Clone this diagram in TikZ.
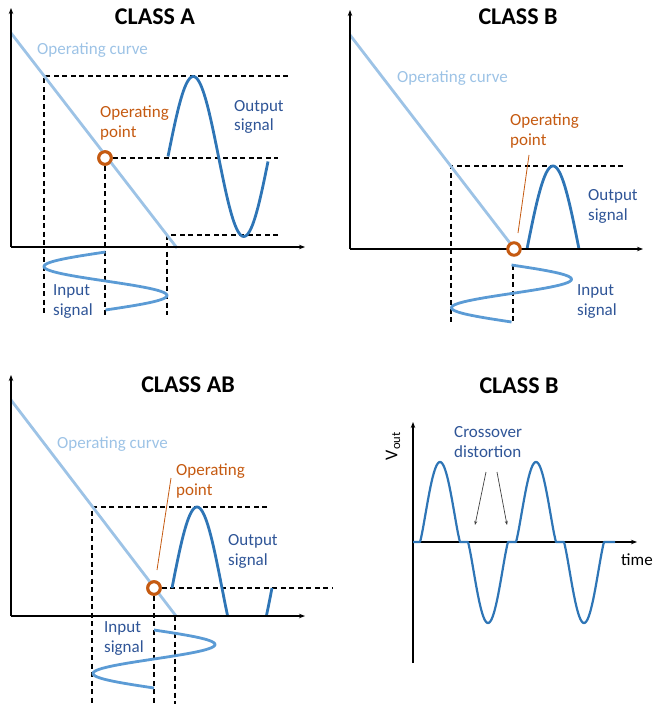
\documentclass[tikz,border=0pt]{standalone}
\usepackage{fontspec}
\setmainfont{Carlito}
\usetikzlibrary{arrows.meta}
\definecolor{curveblue}{HTML}{9DC3E6}
\definecolor{outblue}{HTML}{2E75B6}
\definecolor{inblue}{HTML}{5B9BD5}
\definecolor{txtblue}{HTML}{2F5597}
\definecolor{oporange}{HTML}{C55A11}
\definecolor{arrgray}{HTML}{404040}
\begin{document}
\begin{tikzpicture}[x=1pt,y=-1pt,
  axis/.style={line width=1.2pt,-{Stealth[length=6pt,width=4.5pt]}},
  opcurve/.style={curveblue,line width=2.8pt},
  outsig/.style={outblue,line width=2.8pt},
  insig/.style={inblue,line width=2.8pt},
  guide/.style={line width=1.2pt,dash pattern=on 5pt off 3.5pt},
  oppt/.style={circle,draw=oporange,fill=white,line width=3pt,minimum size=12.5pt,inner sep=0pt},
  pointer/.style={oporange,line width=0.8pt},
  ttl/.style={font=\fontsize{24}{28}\selectfont\bfseries,anchor=base,inner sep=0pt},
  lbl/.style={font=\fontsize{17}{20}\selectfont,align=left,anchor=base west,inner sep=0pt},
  declare function={lobe(\t)=pow(max(abs(sin(4.5*\t)),0.0001),1.2);}
]
\useasboundingbox (0,0) rectangle (658,706);

% ================= CLASS A =================
\coordinate (Ao) at (11,247);
\coordinate (Ay) at (11,8);
\coordinate (Ax) at (305,247);
\coordinate (cA1) at (11,33);
\coordinate (cA2) at (177,248);
\node[oppt] (opA) at (105,158) {};
\coordinate (gA1) at (44,76);
\coordinate (gA2) at (288,76);
\coordinate (gA3) at (44,315);
\coordinate (gA4) at (278,158);
\coordinate (gA5) at (105,315);
\coordinate (gA6) at (167,235);
\coordinate (gA7) at (278,235);
\coordinate (gA8) at (167,315);
\draw[guide] (gA2) -- (gA1) -- (gA3);
\draw[guide] (opA.east) -- (gA4);
\draw[guide] (opA.south) -- (gA5);
\draw[guide] (gA7) -- (gA6) -- (gA8);
\draw[opcurve] (cA1) -- (cA2);
\draw[outsig] plot[domain=168:268,samples=80] (\x,{156.5-80*sin(3.5644*(\x-168))});
\draw[insig] plot[domain=252:310,samples=60] ({105.5-61.5*sin(6.2069*(\x-252))},\x);
\draw[axis] (Ao) -- (Ay);
\draw[axis] (Ao) -- (Ax);
\node[oppt] at (opA) {};
\node[ttl] (tA) at (155,25) {CLASS A};
\node[lbl,text=curveblue] (ocA) at (37,55) {Operating curve};
\node[lbl,text=oporange] (opAl) at (100,137) {Operating\\point};
\node[lbl,text=txtblue] (osA) at (234,131) {Output\\signal};
\node[lbl,text=txtblue] (isA) at (53,315) {Input\\signal};

% ================= CLASS B =================
\coordinate (Bo) at (350,249);
\coordinate (By) at (350,10);
\coordinate (Bx) at (643,249);
\coordinate (cB1) at (350,35);
\coordinate (cB2) at (513,247);
\coordinate (gB1) at (451,166);
\coordinate (gB2) at (623,166);
\coordinate (gB3) at (451,323);
\coordinate (gB4) at (513,265);
\coordinate (gB5) at (513,323);
\draw[guide] (gB2) -- (gB1) -- (gB3);
\draw[guide] (gB4) -- (gB5);
\draw[opcurve] (cB1) -- (cB2);
\draw[outsig] plot[domain=527:579,samples=60] (\x,{249-83*sin(3.4615*(\x-527))});
\draw[insig] plot[domain=265:322,samples=60] ({511.5+60*sin(6.3158*(\x-265))},\x);
\draw[axis] (Bo) -- (By);
\draw[axis] (Bo) -- (Bx);
\node[oppt] (opB) at (514,249) {};
\coordinate (pB1) at (518,233);
\coordinate (pB2) at (529,155);
\draw[pointer] (pB1) -- (pB2);
\node[ttl] (tB) at (518,25) {CLASS B};
\node[lbl,text=curveblue] (ocB) at (397,83) {Operating curve};
\node[lbl,text=oporange] (opBl) at (510,145) {Operating\\point};
\node[lbl,text=txtblue] (osB) at (588,220) {Output\\signal};
\node[lbl,text=txtblue] (isB) at (577,315) {Input\\signal};

% ================= CLASS AB =================
\coordinate (Co) at (11,616);
\coordinate (Cy) at (11,375);
\coordinate (Cx) at (305,616);
\coordinate (cC1) at (11,400);
\coordinate (cC2) at (176,616);
\coordinate (gC1) at (92,507);
\coordinate (gC2) at (267,507);
\coordinate (gC3) at (92,704);
\coordinate (gC4) at (333,588);
\coordinate (gC5) at (154,704);
\coordinate (gC6) at (175,616);
\coordinate (gC7) at (175,704);
\node[oppt] (opC) at (154,588) {};
\draw[guide] (gC2) -- (gC1) -- (gC3);
\draw[guide] (opC.east) -- (gC4);
\draw[guide] (opC.south) -- (gC5);
\draw[guide] (gC6) -- (gC7);
\draw[opcurve] (cC1) -- (cC2);
\draw[outsig] plot[domain=172:227.6,samples=60] (\x,{588-81*sin(3.6*(\x-172))});
\draw[outsig] plot[domain=266.4:272,samples=10] (\x,{588-81*sin(3.6*(\x-172))});
\draw[insig] plot[domain=630:688,samples=60] ({154+61*sin(6.2069*(\x-630))},\x);
\draw[axis] (Co) -- (Cy);
\draw[axis] (Co) -- (Cx);
\node[oppt] at (opC) {};
\coordinate (pC1) at (157,570);
\coordinate (pC2) at (171,478);
\draw[pointer] (pC1) -- (pC2);
\node[ttl] (tC) at (188,392) {CLASS AB};
\node[lbl,text=curveblue] (ocC) at (57,448) {Operating curve};
\node[lbl,text=oporange] (opCl) at (176,495) {Operating\\point};
\node[lbl,text=txtblue] (osC) at (228,565) {Output\\signal};
\node[lbl,text=txtblue] (isC) at (104,652) {Input\\signal};

% ================= CLASS B (crossover) =================
\coordinate (Do) at (413,663);
\coordinate (Dy) at (413,422);
\coordinate (Dz) at (413,542);
\coordinate (Dx) at (637,542);
\coordinate (Dend) at (615,542);
\draw[axis] (Do) -- (Dy);
\draw[axis] (Dz) -- (Dx);
\draw[outblue,line width=2.2pt,line join=round]
  (Dz) -- (420,542)
  -- plot[domain=420:460,samples=50] (\x,{542-80*lobe(\x-420)})
  -- (468,542)
  -- plot[domain=468:508,samples=50] (\x,{542+81*lobe(\x-468)})
  -- (516,542)
  -- plot[domain=516:556,samples=50] (\x,{542-80*lobe(\x-516)})
  -- (564,542)
  -- plot[domain=564:604,samples=50] (\x,{542+81*lobe(\x-564)})
  -- (Dend);
\node[ttl] (tD) at (519,393) {CLASS B};
\node[font=\fontsize{18}{20}\selectfont,rotate=90,inner sep=0pt] (vout) at (393,446) {V\textsubscript{out}};
\node[lbl,text=txtblue] (xd) at (454,457) {Crossover\\distortion};
\node[lbl] (tm) at (621,565) {time};
\coordinate (aD1) at (486,472);
\coordinate (aD2) at (475,525);
\coordinate (aD3) at (497,472);
\coordinate (aD4) at (507,525);
\draw[arrgray,line width=0.7pt,-{Stealth[length=4pt,width=3pt]}] (aD1) -- (aD2);
\draw[arrgray,line width=0.7pt,-{Stealth[length=4pt,width=3pt]}] (aD3) -- (aD4);
\end{tikzpicture}
\end{document}
